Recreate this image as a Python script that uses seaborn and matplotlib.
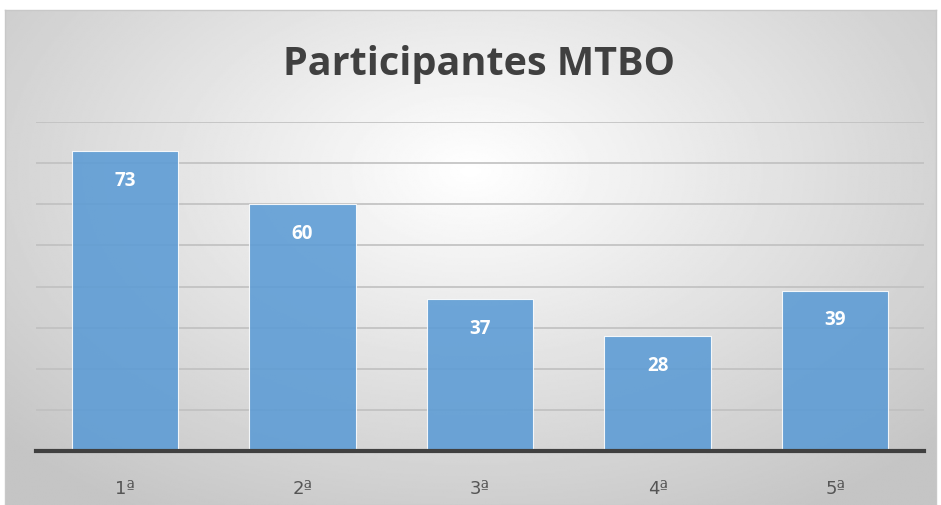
import numpy as np
import pandas as pd
import seaborn as sns
import matplotlib.pyplot as plt

categories = ['1ª', '2ª', '3ª', '4ª', '5ª']
participants = [73, 60, 37, 28, 39]

df = pd.DataFrame({'edicao': categories, 'participantes': participants})

sns.set_theme(style='white')
plt.rcParams['font.family'] = ['Open Sans', 'DejaVu Sans']

W, H = 941, 506
fig = plt.figure(figsize=(W / 100, H / 100), dpi=100)
fig.patch.set_facecolor('white')

# radial gray gradient behind the chart frame
bg = fig.add_axes([5 / W, 0, (936 - 5) / W, (H - 11) / H])
yy, xx = np.mgrid[-1:1:300j, -1:1:600j]
r = np.sqrt((xx * 0.95) ** 2 + ((yy + 0.35) * 0.8) ** 2)
shade = 1.0 - 0.23 * np.clip(r, 0, 1.3) / 1.3
bg.imshow(shade, cmap='gray', vmin=0, vmax=1, aspect='auto', extent=[0, 1, 0, 1])
for s in bg.spines.values():
    s.set_color('#c8c8c8')
    s.set_linewidth(1)
bg.set_xticks([])
bg.set_yticks([])

ax = fig.add_axes([36 / W, (H - 452) / H, (924 - 36) / W, (452 - 123) / H])
ax.patch.set_alpha(0)
ax.set_axisbelow(True)
ax.yaxis.grid(True, color='#c0c0c0', linewidth=1.2)
sns.barplot(data=df, x='edicao', y='participantes', ax=ax, color='#5b9bd5',
            width=0.6, saturation=1, alpha=0.88, edgecolor='white', linewidth=0.8)
ax.set_ylim(0, 80)
ax.set_xlim(-0.5, 4.5)
ax.set_yticks(range(0, 81, 10))
ax.set_yticklabels([])
ax.set_xlabel('')
ax.set_ylabel('')
ax.tick_params(axis='x', length=0, pad=20, labelsize=13, labelcolor='#555555')
for lbl in ax.get_xticklabels():
    lbl.set_family(['DejaVu Sans'])
ax.tick_params(axis='y', length=0)
for s in ['top', 'right', 'left']:
    ax.spines[s].set_visible(False)
ax.spines['bottom'].set_color('#404040')
ax.spines['bottom'].set_linewidth(3)

for i, v in enumerate(participants):
    ax.text(i, v - 7, str(v), ha='center', va='center', color='white',
            fontsize=13.5, fontweight='bold')

fig.text(479.5 / W, 1 - 65 / H, 'Participantes MTBO', ha='center', va='center',
         fontsize=28.5, fontweight='bold', color='#404040')

fig.savefig('out.png', dpi=100)
